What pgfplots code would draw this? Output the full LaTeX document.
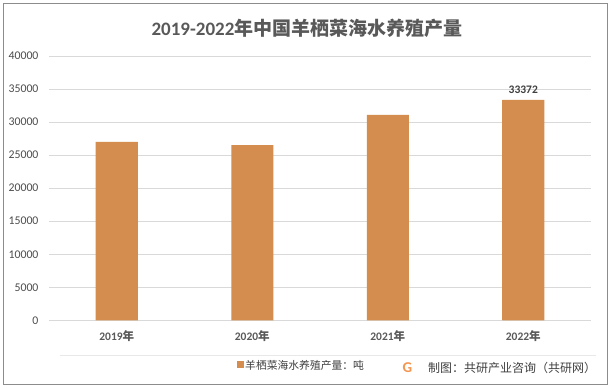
\documentclass[border=0pt]{standalone}
\usepackage{pgfplots}
\pgfplotsset{compat=1.18}
\usepackage{fontspec}
\setmainfont{Carlito}
\newfontfamily\cjk{Noto Sans CJK SC}
\definecolor{barc}{RGB}{212,141,78}
\definecolor{gridc}{RGB}{217,217,217}
\definecolor{txt}{RGB}{89,89,89}
\definecolor{dtxt}{RGB}{64,64,64}
\definecolor{framec}{RGB}{140,140,140}
\definecolor{logoc}{RGB}{244,150,80}
\begin{document}
\begin{tikzpicture}[x=1pt,y=1pt]
\fill[white] (0,0) rectangle (614,388);
\draw[framec,line width=1.3pt] (3.2,384.8) rectangle (607.5,3.6);
\node[font=\fontsize{19}{22}\selectfont\bfseries, text=txt] at (307,360) {2019-2022{\cjk 年中国羊栖菜海水养殖产量}};
\begin{axis}[
  at={(49pt,67.7pt)}, anchor=south west,
  scale only axis, width=542pt, height=264.3pt,
  xmin=-0.5, xmax=3.5, ymin=0, ymax=40000,
  ytick={0,5000,...,40000},
  xtick={0,1,2,3},
  xticklabels={{2019{\cjk 年}},{2020{\cjk 年}},{2021{\cjk 年}},{2022{\cjk 年}}},
  ymajorgrids, grid style={gridc, line width=0.8pt},
  axis line style={draw=none},
  axis x line*=bottom,
  x axis line style={draw=gridc, line width=0.8pt},
  y axis line style={draw=none},
  major tick length=0pt,
  scaled y ticks=false,
  /pgf/number format/assume math mode=true,
  yticklabel={\pgfmathprintnumber[fixed,1000 sep={}]{\tick}},
  yticklabel style={font=\fontsize{11.8}{13}\selectfont, text=txt!85!black, xshift=-7pt},
  xticklabel style={font=\fontsize{11.5}{13}\selectfont\bfseries, text=txt, yshift=-7pt},
  ybar, bar width=42pt,
  clip=false,
]
\addplot[fill=barc, draw=none, bar shift=0pt] coordinates {(0,27000) (1,26500) (2,31100) (3,33372)};
\addplot[fill=barc, draw=none, bar shift=0pt,
  nodes near coords, every node near coord/.append style={font=\fontsize{11.5}{13}\selectfont\bfseries, text=dtxt, yshift=3pt, /pgf/number format/fixed, /pgf/number format/1000 sep={}}] coordinates {(3,33372)};
\end{axis}
\draw[gridc!60, line width=0.6pt] (60,33) -- (596,33);
\fill[barc] (236.5,19.5) rectangle (243.5,26.5);
\node[anchor=west, inner sep=0pt, font=\fontsize{10.8}{12}\cjk, text=dtxt] at (245,23) {羊栖菜海水养殖产量：吨};
\node[font=\fontsize{15}{15}\selectfont\bfseries, text=logoc, inner sep=0pt] at (407.5,20) {G};
\node[anchor=west, inner sep=0pt, font=\fontsize{12}{14}\cjk, text=dtxt] at (428,20) {制图：共研产业咨询（共研网）};
\end{tikzpicture}
\end{document}
